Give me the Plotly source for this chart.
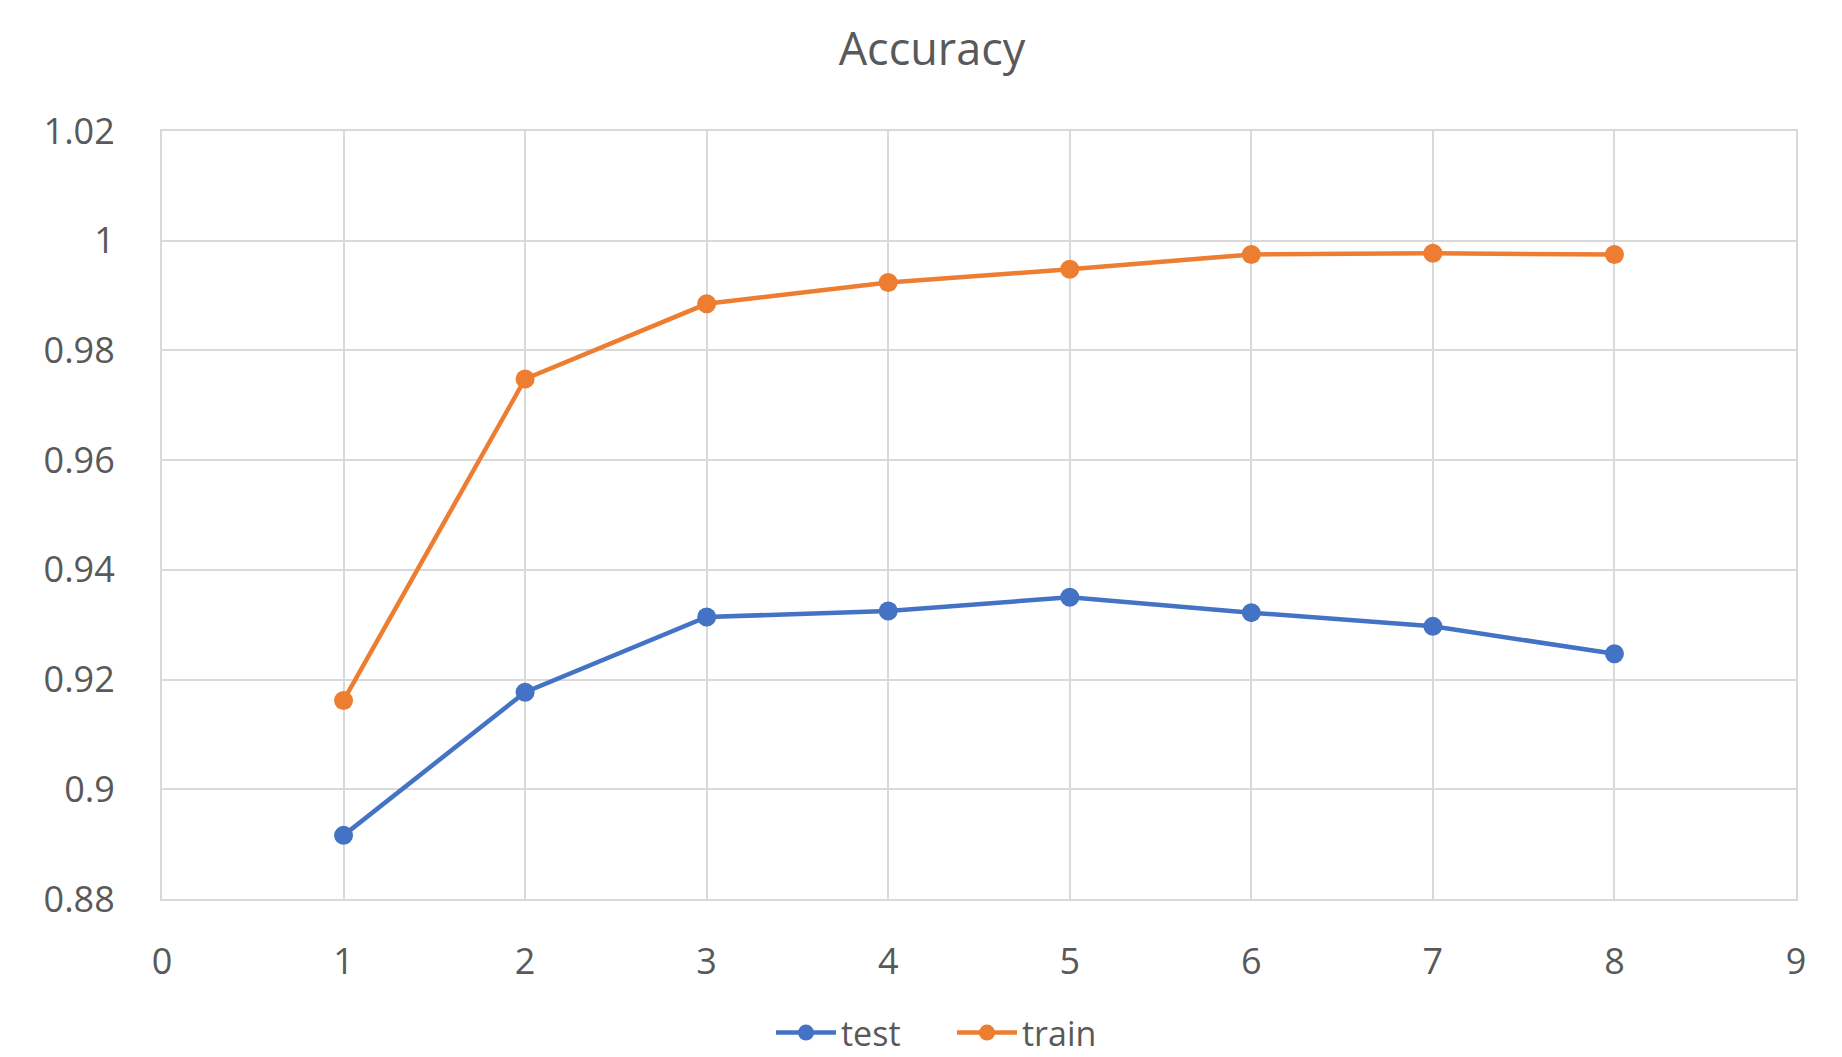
import plotly.graph_objects as go

epochs = [1, 2, 3, 4, 5, 6, 7, 8]
test_acc = [0.8916, 0.9177, 0.9314, 0.9325, 0.9350, 0.9322, 0.9297, 0.9247]
train_acc = [0.9162, 0.9748, 0.9885, 0.9924, 0.9948, 0.9975, 0.9977, 0.9975]

BLUE = "#4472C4"
ORANGE = "#ED7D31"
GRID = "#D9D9D9"
TEXT = "#595959"
FONT = "Open Sans"

fig = go.Figure()
fig.add_trace(go.Scatter(x=epochs, y=test_acc, name="test", mode="lines+markers",
                         line=dict(color=BLUE, width=4.5),
                         marker=dict(color=BLUE, size=19)))
fig.add_trace(go.Scatter(x=epochs, y=train_acc, name="train", mode="lines+markers",
                         line=dict(color=ORANGE, width=4.5),
                         marker=dict(color=ORANGE, size=19)))

fig.update_layout(
    width=1842, height=1057,
    margin=dict(l=162, r=46, t=131, b=158, pad=0),
    paper_bgcolor="white", plot_bgcolor="white",
    font=dict(family=FONT, color=TEXT, size=36),
    title=dict(text="Accuracy", x=932/1842, xanchor="center", xref="container",
               y=1-49/1057, yanchor="middle", yref="container",
               font=dict(family=FONT, size=45, color=TEXT)),
    showlegend=True,
    legend=dict(orientation="h", x=952/1842, xanchor="center", xref="container",
                y=1-1033/1057, yanchor="middle", yref="container",
                font=dict(family=FONT, size=34, color=TEXT),
                entrywidth=106, entrywidthmode="pixels",
                itemwidth=60, tracegroupgap=0),
    xaxis=dict(range=[0, 9], dtick=1, tick0=0, showgrid=True, gridcolor=GRID, gridwidth=2,
               showline=True, linecolor=GRID, linewidth=2, mirror=True,
               zeroline=False, ticks="", ticklabelstandoff=30,
               tickfont=dict(family=FONT, size=36, color=TEXT)),
    yaxis=dict(range=[0.88, 1.02], dtick=0.02, tick0=0.88, showgrid=True, gridcolor=GRID, gridwidth=2,
               showline=True, linecolor=GRID, linewidth=2, mirror=True,
               zeroline=False, ticks="", ticklabelstandoff=38,
               tickfont=dict(family=FONT, size=36, color=TEXT)),
)

fig.write_html("out.html", config={"displayModeBar": False},
               post_script="document.body.style.margin='0';document.body.style.overflow='hidden';")
